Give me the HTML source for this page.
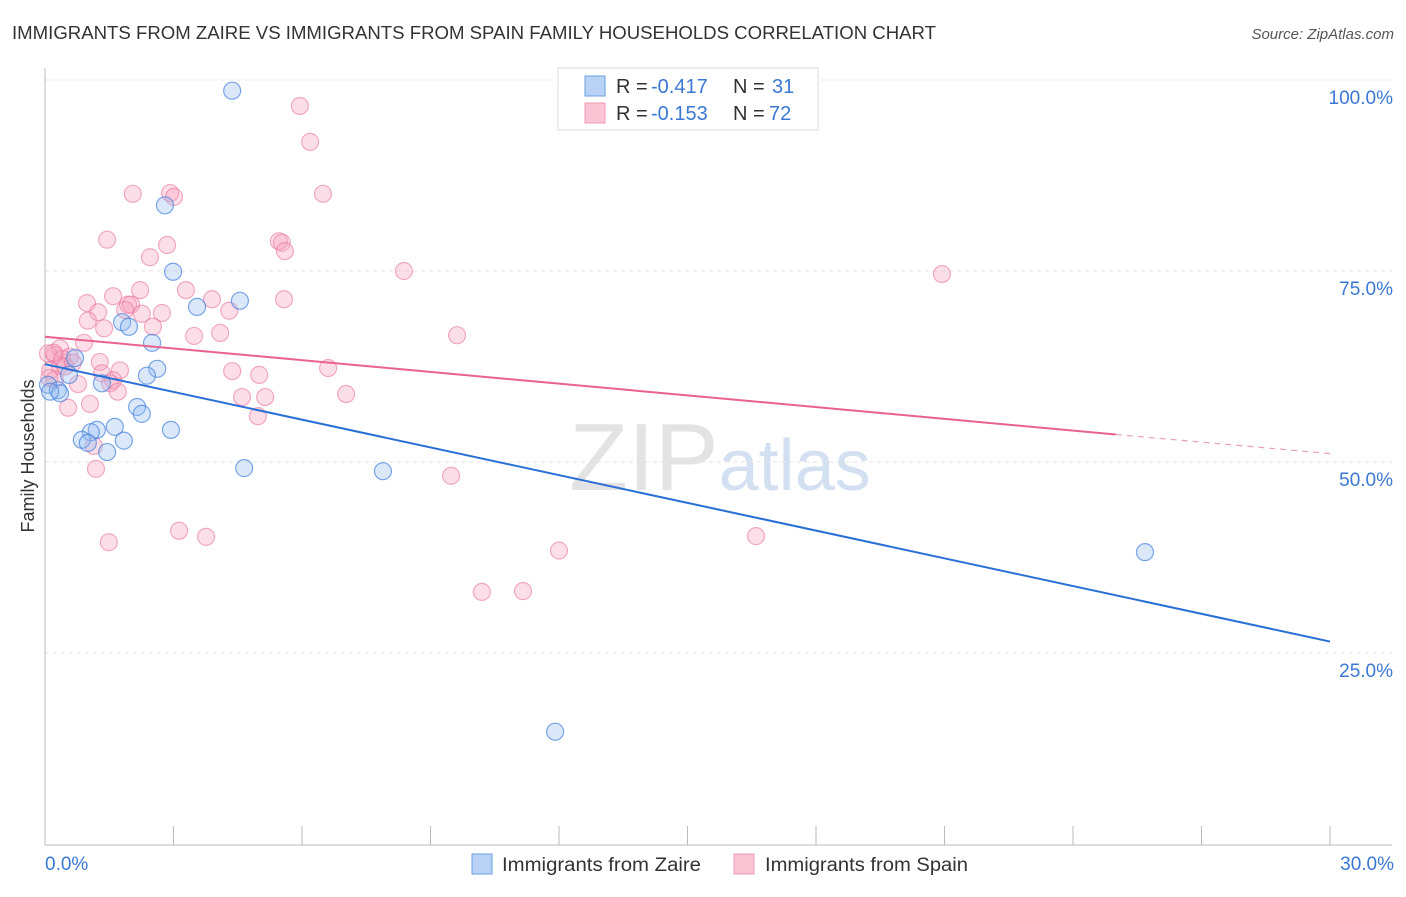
<!DOCTYPE html>
<html><head><meta charset="utf-8"><style>
body{margin:0;background:#fff;font-family:"Liberation Sans",sans-serif;}
svg text{font-family:"Liberation Sans",sans-serif;}
</style></head><body>
<svg id="chart" width="1406" height="892" xmlns="http://www.w3.org/2000/svg">
<text x="12" y="39" font-size="18" fill="#333" textLength="924" lengthAdjust="spacingAndGlyphs">IMMIGRANTS FROM ZAIRE VS IMMIGRANTS FROM SPAIN FAMILY HOUSEHOLDS CORRELATION CHART</text>
<text x="1394" y="39" font-size="15" fill="#555" text-anchor="end" font-style="italic">Source: ZipAtlas.com</text>
<text x="720" y="490" font-size="96" fill="#ddd" text-anchor="middle" font-family="Liberation Serif" opacity="0.8">ZIP<tspan fill="#c9d9ef" font-family="Liberation Sans" font-size="72">atlas</tspan></text>
<g id="grid"></g><g id="axes"></g><g id="pts"></g><g id="lines"></g>
<text transform="translate(34,456) rotate(-90)" font-size="18" fill="#333" text-anchor="middle">Family Households</text>
<g>
<rect x="558" y="68" width="260" height="62" fill="#fff" stroke="#ddd"/>
<rect x="585" y="76" width="20" height="20" fill="#b8d3f5" stroke="#6a9fe0"/>
<rect x="585" y="103" width="20" height="20" fill="#f9c4d4" stroke="#ee9ab4"/>
<text x="616" y="93" font-size="20" fill="#333">R =</text>
<text x="651" y="93" font-size="20" fill="#3a78d4">-0.417</text>
<text x="733" y="93" font-size="20" fill="#333">N =</text>
<text x="772" y="93" font-size="20" fill="#3a78d4">31</text>
<text x="616" y="120" font-size="20" fill="#333">R =</text>
<text x="651" y="120" font-size="20" fill="#3a78d4">-0.153</text>
<text x="733" y="120" font-size="20" fill="#333">N =</text>
<text x="769" y="120" font-size="20" fill="#3a78d4">72</text>
</g>
<g>
<rect x="472" y="854" width="20" height="20" fill="#b8d3f5" stroke="#6a9fe0"/>
<text x="502" y="871" font-size="19" fill="#333" textLength="199" lengthAdjust="spacingAndGlyphs">Immigrants from Zaire</text>
<rect x="734" y="854" width="20" height="20" fill="#f9c4d4" stroke="#ee9ab4"/>
<text x="765" y="871" font-size="19" fill="#333" textLength="203" lengthAdjust="spacingAndGlyphs">Immigrants from Spain</text>
</g>
</svg>
<script>
const blueX=[4.37,2.80,2.99,4.55,3.55,1.80,1.96,2.50,0.70,2.62,2.38,1.33,0.07,0.30,0.35,2.15,2.26,1.63,2.94,1.21,1.07,0.86,1.00,1.84,1.45,4.65,7.89,25.68,11.91,0.56,0.12];
const blueY=[98.6,83.6,74.9,71.1,70.3,68.3,67.7,65.6,63.6,62.2,61.3,60.3,60.1,59.4,59.0,57.2,56.3,54.6,54.2,54.2,53.9,52.9,52.5,52.8,51.3,49.2,48.8,38.2,14.7,61.4,59.2];
const pinkX=[5.95,6.19,2.05,2.92,3.01,6.49,1.45,2.85,5.46,5.53,5.60,2.45,8.38,20.94,3.29,2.22,1.59,0.98,3.90,5.58,1.94,2.01,1.87,1.24,2.26,2.73,4.30,1.00,1.38,2.52,4.09,3.48,9.62,0.91,0.35,0.23,0.07,0.58,0.35,1.28,1.75,4.37,1.33,5.00,6.61,1.59,0.77,1.52,1.70,4.60,5.14,7.03,1.05,0.54,4.97,1.14,1.19,9.48,3.13,3.76,1.49,12.0,16.6,10.2,11.16,0.40,0.12,0.23,0.47,0.20,0.65,0.10];
const pinkY=[96.6,91.9,85.1,85.2,84.7,85.1,79.1,78.4,78.9,78.7,77.6,76.8,75.0,74.6,72.5,72.5,71.7,70.8,71.3,71.3,70.6,70.6,69.9,69.6,69.4,69.5,69.8,68.5,67.5,67.7,66.9,66.5,66.6,65.6,64.9,64.0,64.2,63.8,62.6,63.1,62.0,61.9,61.6,61.4,62.3,60.7,60.2,60.3,59.2,58.5,58.5,58.9,57.6,57.1,56.0,52.1,49.1,48.2,41.0,40.2,39.5,38.4,40.3,33.0,33.1,63.5,62.0,60.8,62.5,64.3,63.0,61.0];
const yTicks=[25,50,75,100];
const xTickLabels=["0.0%","30.0%"];
const blueLine=[[0,62.8],[30,26.5]];
const pinkLine=[[0,66.4],[25,53.6],[30,51.1]];
const X=v=>45+v/30*1285, Y=v=>844-v/100*764;
const NS="http://www.w3.org/2000/svg";
function mk(t,a,p){const e=document.createElementNS(NS,t);for(const k in a)e.setAttribute(k,a[k]);p.appendChild(e);return e;}
const grid=document.getElementById('grid'),axes=document.getElementById('axes'),pts=document.getElementById('pts'),lines=document.getElementById('lines');
yTicks.forEach(t=>{const l=mk('line',{x1:45,x2:1392,y1:Y(t),y2:Y(t),stroke:'#e3e3e3','stroke-dasharray':'4,4'},grid);


const tx=mk('text',{x:1393,y:Y(t)+24,'font-size':19,fill:'#3a78d4','text-anchor':'end'},axes);tx.textContent=t.toFixed(1)+'%';

});
mk('line',{x1:45,x2:45,y1:68,y2:845,stroke:'#bbb'},axes);
mk('line',{x1:45,x2:1392,y1:845,y2:845,stroke:'#bbb'},axes);
for(let i=0;i<=10;i++){const x=X(i*3);const t=mk('line',{x1:x,x2:x,y1:826,y2:845,stroke:'#bbb'},axes);}
const xl0=mk('text',{x:45,y:870,'font-size':19,fill:'#3a78d4'},axes);xl0.textContent=xTickLabels[0];


const xl1=mk('text',{x:1394,y:870,'font-size':19,fill:'#3a78d4','text-anchor':'end'},axes);xl1.textContent=xTickLabels[1];


pinkX.forEach((v,i)=>{const c=mk('circle',{cx:X(v),cy:Y(pinkY[i]),r:8.5,fill:'rgba(245,160,190,0.35)',stroke:'rgba(232,120,160,0.6)','stroke-width':1.2},pts);

});
blueX.forEach((v,i)=>{const c=mk('circle',{cx:X(v),cy:Y(blueY[i]),r:8.5,fill:'rgba(150,190,240,0.35)',stroke:'rgba(70,130,220,0.7)','stroke-width':1.2},pts);

});
const bl=mk('line',{x1:X(blueLine[0][0]),y1:Y(blueLine[0][1]),x2:X(blueLine[1][0]),y2:Y(blueLine[1][1]),stroke:'#2a6fd6','stroke-width':2},lines);


const pl=mk('line',{x1:X(pinkLine[0][0]),y1:Y(pinkLine[0][1]),x2:X(pinkLine[1][0]),y2:Y(pinkLine[1][1]),stroke:'#e8628f','stroke-width':2},lines);


const pd=mk('line',{x1:X(pinkLine[1][0]),y1:Y(pinkLine[1][1]),x2:X(pinkLine[2][0]),y2:Y(pinkLine[2][1]),stroke:'#e8a0b8','stroke-width':1.2,'stroke-dasharray':'6,5'},lines);


</script>
</body></html>
